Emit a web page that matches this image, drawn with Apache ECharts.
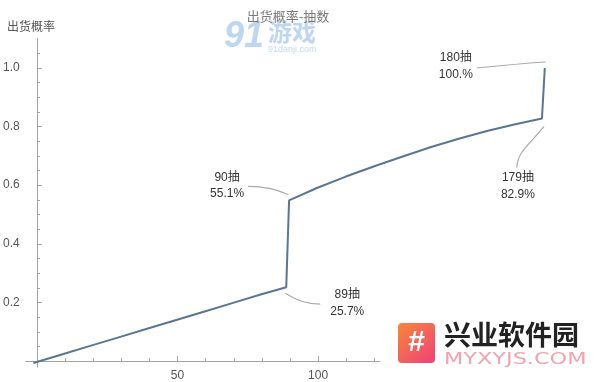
<!DOCTYPE html>
<html>
<head>
<meta charset="utf-8">
<script src="https://cdn.jsdelivr.net/npm/echarts@6/dist/echarts.min.js"></script>
<style>
html,body{margin:0;padding:0;background:#fff;}
#chart{width:600px;height:382px;}
</style>
</head>
<body>
<div id="chart"></div>
<script>
// ---- data ----
const pulls = [0, 10, 20, 30, 40, 50, 60, 70, 80, 89, 90, 100, 110, 120, 130, 140, 150, 160, 170, 179, 180];
const probs = [0, 0.029, 0.058, 0.087, 0.116, 0.145, 0.174, 0.203, 0.232, 0.257, 0.551, 0.594, 0.632, 0.667, 0.700, 0.732, 0.761, 0.787, 0.810, 0.829, 1.0];
const xMajorTicks = [50, 100];
const xMinorTicks = [10, 20, 30, 40, 60, 70, 80, 90, 110, 120];
const yMajorTicks = [0.2, 0.4, 0.6, 0.8, 1.0];
const yMinorTicks = [0.05, 0.1, 0.15, 0.25, 0.3, 0.35, 0.45, 0.5, 0.55, 0.65, 0.7, 0.75, 0.85, 0.9, 0.95, 1.05];
const titleText = '出货概率-抽数';
const yName = '出货概率';
const notes = [
  { x: 90, y: 0.551, lines: ['90抽', '55.1%'] },
  { x: 89, y: 0.257, lines: ['89抽', '25.7%'] },
  { x: 180, y: 1.0, lines: ['180抽', '100.%'] },
  { x: 179, y: 0.829, lines: ['179抽', '82.9%'] }
];

const axisColor = '#a3a3a3';
const sans = '"Liberation Sans", Arial, "Noto Sans CJK SC", sans-serif';
const data = pulls.map((p, i) => [p, probs[i]]);

const chart = echarts.init(document.getElementById('chart'), null, { renderer: 'canvas' });

// visible axis spans -4..122; the curve continues to 180 at the same scale
const xMin = -4, xMaxAxis = 122, xMaxData = 185;
const gLeft = 22, gRight = 220;
const pxPerUnit = (600 - gLeft - gRight) / (xMaxAxis - xMin);
const dataRight = 600 - gLeft - pxPerUnit * (xMaxData - xMin);

const xBase = { type: 'value', min: xMin, max: xMaxAxis, splitLine: { show: false } };
const yBase = { type: 'value', min: -0.02, max: 1.1, splitLine: { show: false } };

chart.setOption({
  animation: false,
  backgroundColor: '#fff',
  title: {
    text: titleText, left: 283, top: 5, textAlign: 'center',
    textStyle: { fontSize: 13, fontWeight: 'normal', color: '#7a7a7a', fontFamily: '"Noto Sans CJK SC", serif' }
  },
  grid: [
    { left: gLeft, right: gRight, top: 38.5, bottom: 13.1, containLabel: false },
    { left: gLeft, right: dataRight, top: 38.5, bottom: 13.1, containLabel: false }
  ],
  xAxis: [
    Object.assign({}, xBase, {
      gridIndex: 0,
      axisLine: { onZero: true, lineStyle: { color: axisColor, width: 1 } },
      axisTick: { inside: true, length: 5, customValues: xMajorTicks, lineStyle: { color: axisColor } },
      axisLabel: { customValues: xMajorTicks, color: '#555', fontSize: 12, margin: 3, fontFamily: sans }
    }),
    Object.assign({}, xBase, {
      gridIndex: 0, position: 'bottom',
      axisLine: { show: false, onZero: true, onZeroAxisIndex: 0 },
      axisTick: { inside: true, length: 3, customValues: xMinorTicks, lineStyle: { color: axisColor } },
      axisLabel: { show: false }
    }),
    { type: 'value', gridIndex: 1, min: xMin, max: xMaxData, show: false }
  ],
  yAxis: [
    Object.assign({}, yBase, {
      gridIndex: 0,
      axisLine: { show: true, onZero: true, lineStyle: { color: axisColor, width: 1 } },
      axisTick: { show: true, inside: true, length: 5, customValues: yMajorTicks, lineStyle: { color: axisColor } },
      axisLabel: { customValues: yMajorTicks, color: '#555', fontSize: 12, margin: 6, fontFamily: sans,
        formatter: v => v.toFixed(1) }
    }),
    Object.assign({}, yBase, {
      gridIndex: 0, position: 'left',
      axisLine: { show: false, onZero: true, onZeroAxisIndex: 0 },
      axisTick: { show: true, inside: true, length: 3, customValues: yMinorTicks, lineStyle: { color: axisColor } },
      axisLabel: { show: false }
    }),
    Object.assign({}, yBase, { gridIndex: 1, show: false })
  ],
  series: [{
    type: 'line', xAxisIndex: 2, yAxisIndex: 2, data: data,
    showSymbol: false, symbol: 'none', clip: false,
    lineStyle: { color: '#5b7693', width: 2 }
  }]
});

// annotations anchored to their data points
const offsets = {
  90:  { t: [-62, -23, -62, -7], c: [[-41, -14], [-25, -14], [-12, -11], [-1, -6]] },
  89:  { t: [61, 8, 61, 25], c: [[-1, 6], [10, 13], [20, 17], [34, 17]] },
  180: { t: [-89, -10, -89, 7], c: [[-68, 0], [-45, -2], [-20, -5], [1, -6]] },
  179: { t: [-24, 59, -24, 76], c: [[2, 8], [-10, 24], [-25, 33], [-25, 49]] }
};
const g = [];
notes.forEach(n => {
  const p = chart.convertToPixel({ xAxisIndex: 2, yAxisIndex: 2 }, [n.x, n.y]);
  const o = offsets[n.x];
  g.push({ type: 'text', x: p[0] + o.t[0], y: p[1] + o.t[1],
    style: { text: n.lines[0], fill: '#333', font: '12px ' + sans, align: 'center', verticalAlign: 'middle' } });
  g.push({ type: 'text', x: p[0] + o.t[2], y: p[1] + o.t[3],
    style: { text: n.lines[1], fill: '#333', font: '12px ' + sans, align: 'center', verticalAlign: 'middle' } });
  const c = o.c;
  g.push({ type: 'bezierCurve', shape: {
      x1: p[0] + c[0][0], y1: p[1] + c[0][1],
      cpx1: p[0] + c[1][0], cpy1: p[1] + c[1][1],
      cpx2: p[0] + c[2][0], cpy2: p[1] + c[2][1],
      x2: p[0] + c[3][0], y2: p[1] + c[3][1] },
    style: { stroke: '#aaaaaa', lineWidth: 1.2, fill: null } });
});

// axis name and watermark overlays
g.push({ type: 'text', x: 7, y: 26, style: { text: yName, fill: '#555', font: '12px "Noto Sans CJK SC", sans-serif', verticalAlign: 'middle' } });
g.push({ type: 'text', x: 224, y: 37, style: { text: '91', fill: '#b3cfee', font: 'italic bold 36px "Liberation Sans", sans-serif', verticalAlign: 'middle', opacity: 0.85 } });
g.push({ type: 'text', x: 268, y: 32, style: { text: '游戏', fill: '#b3cfee', font: 'bold 24px "Noto Sans CJK SC", sans-serif', verticalAlign: 'middle', opacity: 0.85 } });
g.push({ type: 'text', x: 268, y: 50, style: { text: '91danji.com', fill: '#c3d9f2', font: '9px "Liberation Sans", sans-serif', verticalAlign: 'middle' } });
g.push({ type: 'rect', shape: { x: 398, y: 323, width: 37, height: 40, r: 4 },
  style: { fill: new echarts.graphic.LinearGradient(0, 0, 1, 1, [{ offset: 0, color: '#f7873a' }, { offset: 1, color: '#f0407a' }]) } });
g.push({ type: 'text', x: 416.5, y: 343, style: { text: '#', fill: '#fff', font: 'bold 30px "Liberation Sans", sans-serif', align: 'center', verticalAlign: 'middle' } });
g.push({ type: 'text', x: 444, y: 335, style: { text: '兴业软件园', fill: '#222', font: 'bold 27px "Noto Sans CJK SC", sans-serif', verticalAlign: 'middle' } });
g.push({ type: 'text', x: 444, y: 360, scaleX: 1.4, style: { text: 'MYXYJS.COM', fill: '#f2a3ad', font: '16px "DejaVu Sans", sans-serif', verticalAlign: 'middle' } });

chart.setOption({ graphic: g });
</script>
</body>
</html>
